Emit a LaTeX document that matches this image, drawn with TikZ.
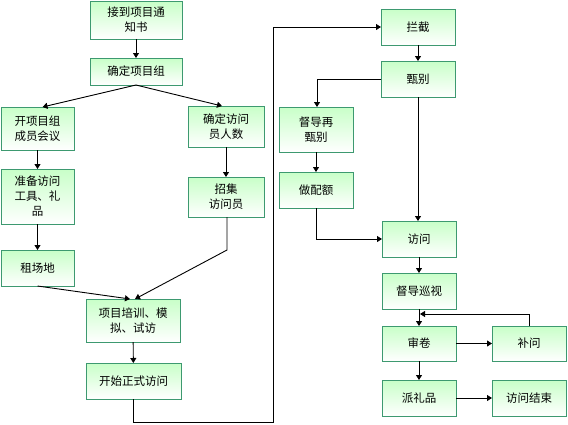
\documentclass[tikz,border=0pt]{standalone}
\usepackage{fontspec}
\setmainfont{Noto Sans CJK SC}
\usetikzlibrary{arrows.meta}
\definecolor{bord}{RGB}{61,153,112}
\definecolor{topg}{RGB}{200,255,200}
\tikzset{
  box/.style={draw=bord, line width=0.9pt, top color=topg, bottom color=white,
    inner sep=0pt, outer sep=0pt, align=center, font=\fontsize{11.5}{15}\selectfont},
  conn/.style={line width=0.9pt, -{Triangle[width=6pt,length=5pt]}},
}
\newcommand{\bx}[6]{\node[box, minimum width=#4pt, minimum height=#5pt] (#1) at (#2,#3) {#6};}
\begin{document}
\begin{tikzpicture}[x=1pt,y=-1pt]
\useasboundingbox (0,0) rectangle (568,424);
\bx{a}{136}{20}{92}{38}{接到项目通\\知书}
\bx{b}{136}{71.5}{92}{27}{确定项目组}
\bx{c}{37.5}{128.5}{73}{43}{开项目组\\成员会议}
\bx{d}{226}{126.5}{76}{41}{确定访问\\员人数}
\bx{e}{37.5}{196.5}{73}{55}{准备访问\\工具、礼\\品}
\bx{f}{226}{197}{76}{40}{招集\\访问员}
\bx{g}{37.5}{268}{73}{36}{租场地}
\bx{h}{133}{320.5}{94}{43}{项目培训、模\\拟、试访}
\bx{i}{133.5}{381}{95}{36}{开始正式访问}
\bx{j}{418}{27}{74}{36}{拦截}
\bx{k}{418}{79}{74}{36}{甄别}
\bx{l}{316}{129.5}{74}{45}{督导再\\甄别}
\bx{m}{316}{190}{74}{36}{做配额}
\bx{n}{419}{239}{74}{36}{访问}
\bx{o}{419}{291}{74}{36}{督导巡视}
\bx{p}{419}{343.5}{74}{35}{审卷}
\bx{q}{419}{398}{74}{36}{派礼品}
\bx{r}{529}{343.5}{74}{35}{补问}
\bx{s}{529}{398}{74}{36}{访问结束}
\coordinate (fbend) at (227,250);
\coordinate (ibend1) at (133.5,422);
\coordinate (ibend2) at (273,422);
\coordinate (ibend3) at (273,27);
\coordinate (kbend) at (317,79);
\coordinate (mbend) at (316,239);
\coordinate (rbend1) at (529,314);
\coordinate (rbend2) at (420,314);
\draw[conn] (a) -- (b);
\draw[conn] (b.south) -- ([xshift=5pt]c.north);
\draw[conn] (b.south) -- ([xshift=-4pt]d.north);
\draw[conn] (c) -- (e);
\draw[conn] (d) -- (f);
\draw[conn] (e) -- (g);
\draw[conn] (g.south) -- ([xshift=-3pt]h.north);
\draw[conn] ([xshift=1pt]f.south) -- (fbend) -- ([xshift=2pt]h.north);
\draw[conn] (h) -- (i);
\draw[conn] (i.south) -- (ibend1) -- (ibend2) -- (ibend3) -- (j.west);
\draw[conn] (j) -- (k);
\draw[conn] (k.west) -- (kbend) -- ([xshift=1pt]l.north);
\draw[conn] (l) -- (m);
\draw[conn] (k.south) -- ([xshift=-1pt]n.north);
\draw[conn] (m.south) -- (mbend) -- (n.west);
\draw[conn] (n) -- (o);
\draw[conn] (o) -- (p);
\draw[conn] (r.north) -- (rbend1) -- (rbend2);
\draw[conn] (p) -- (r);
\draw[conn] (p) -- (q);
\draw[conn] (q) -- (s);
\end{tikzpicture}
\end{document}
